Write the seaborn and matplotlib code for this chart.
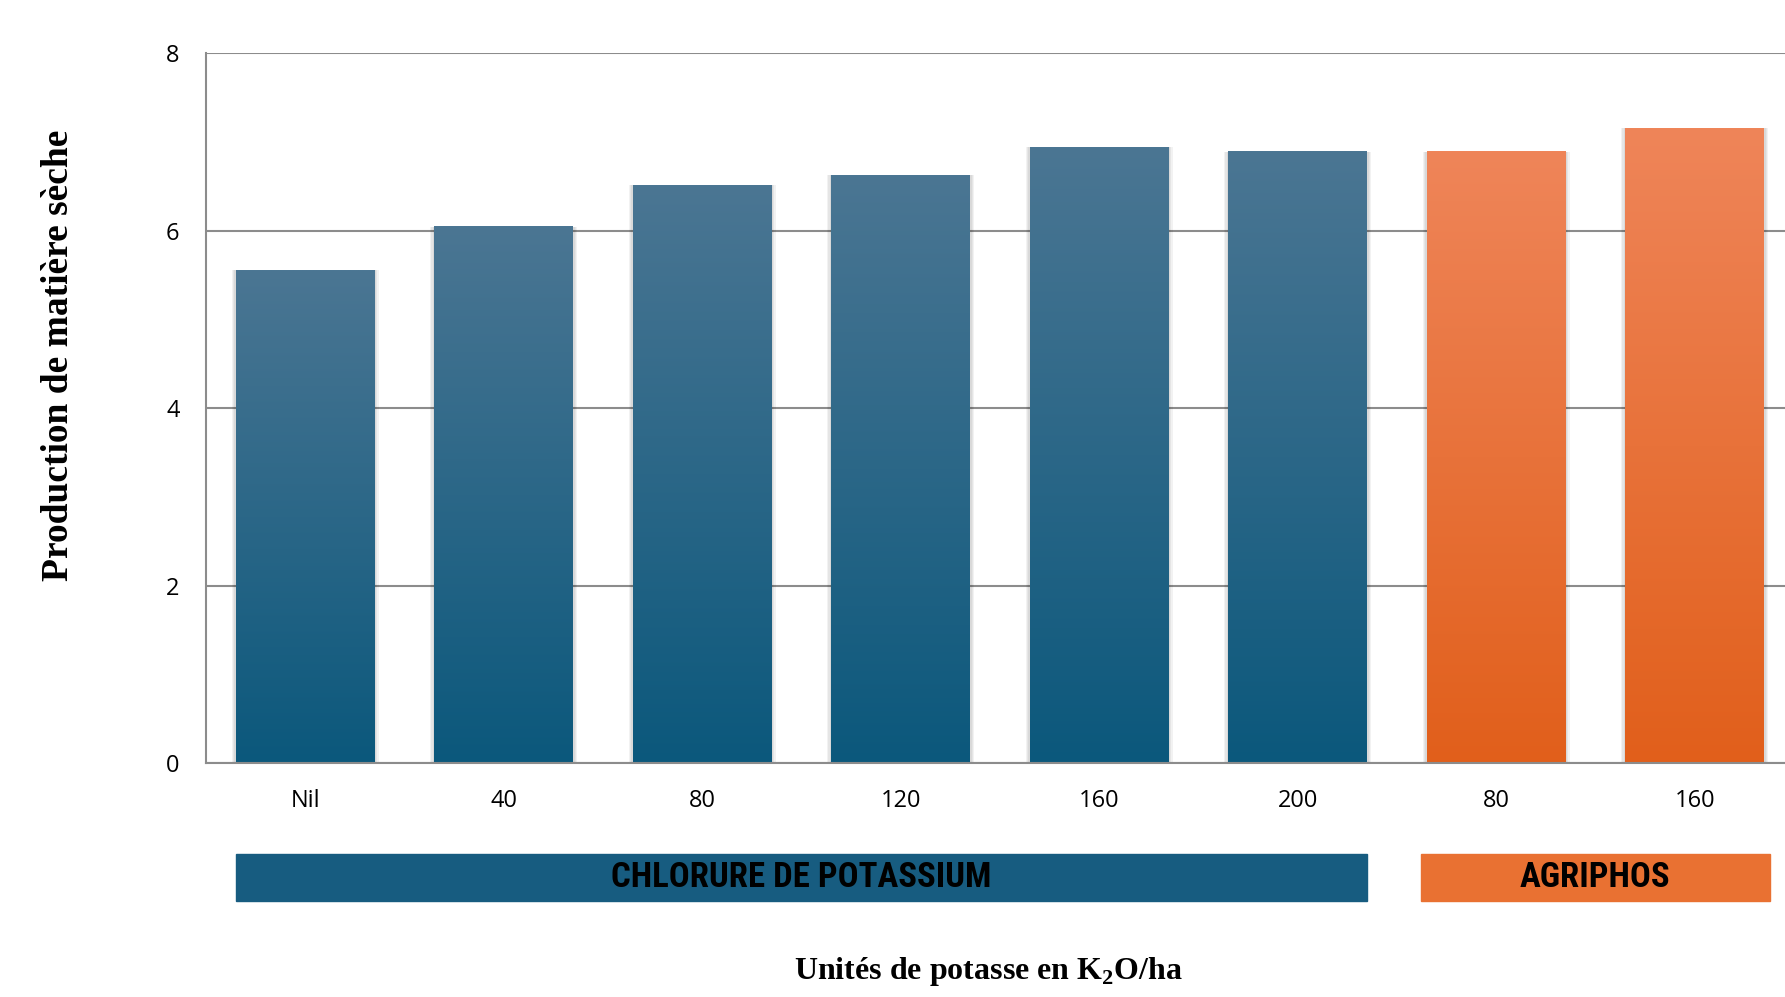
import numpy as np
import pandas as pd
import matplotlib.pyplot as plt
import matplotlib.colors as mcolors
import matplotlib.transforms as mtransforms
from matplotlib import font_manager
import seaborn as sns

# data
doses = ["Nil", "40", "80", "120", "160", "200", "80", "160"]
engrais = ["CHLORURE DE POTASSIUM"] * 6 + ["AGRIPHOS"] * 2
production = [5.55, 6.04, 6.51, 6.62, 6.94, 6.89, 6.89, 7.15]
groups = ["CHLORURE DE POTASSIUM", "AGRIPHOS"]

df = pd.DataFrame({"pos": range(len(doses)), "dose": doses,
                   "engrais": engrais, "prod": production})

band_colors = {"CHLORURE DE POTASSIUM": "#175c80", "AGRIPHOS": "#e97132"}
grad_colors = {"CHLORURE DE POTASSIUM": ("#4b7693", "#0b587c"),
               "AGRIPHOS": ("#ef8559", "#e15f1b")}

sns.set_style("white")
plt.rcParams["font.family"] = ["Open Sans", "DejaVu Sans"]
plt.rcParams["text.color"] = "black"
plt.rcParams["mathtext.fontset"] = "custom"
plt.rcParams["mathtext.rm"] = "Liberation Serif"
plt.rcParams["mathtext.bf"] = "Liberation Serif:bold"

# narrow bold font for the band labels, if one is around
names = {f.name for f in font_manager.fontManager.ttflist}
narrow = [n for n in ["Liberation Sans Narrow", "Roboto Condensed",
                      "DejaVu Sans Condensed"] if n in names]
band_fam = narrow[0] if narrow else "DejaVu Sans"
band_stretch = "normal" if narrow else "condensed"

fig = plt.figure(figsize=(17.85, 9.97), dpi=100)
ax = fig.add_axes([0.1154, 0.2347, 0.8896, 0.7121])

sns.barplot(data=df, x="pos", y="prod", hue="engrais", palette=band_colors,
            dodge=False, width=0.7, legend=False, ax=ax, zorder=2)

bars = sorted(ax.patches, key=lambda p: p.get_x())

# soft shadow + gradient fill over each bar
for patch, grp in zip(bars, engrais):
    x0, w, h = patch.get_x(), patch.get_width(), patch.get_height()
    for k in range(1, 4):
        d = 0.007 * k
        ax.add_patch(plt.Rectangle((x0 - d, 0), w + 2 * d, h + d * 0.02,
                                   color="black", alpha=0.05, lw=0,
                                   zorder=1.5))
    top, bot = grad_colors[grp]
    cmap = mcolors.LinearSegmentedColormap.from_list("g", [bot, top])
    grad = np.linspace(0, 1, 256).reshape(-1, 1)
    ax.imshow(grad, cmap=cmap, origin="lower", aspect="auto",
              extent=(x0, x0 + w, 0, h), zorder=3)
    patch.set_edgecolor("none")

ax.set_xlim(-0.5, len(doses) - 0.5)
ax.set_ylim(0, 8)
ax.set_yticks([0, 2, 4, 6, 8])
ax.yaxis.grid(True, color="#8c8c8c", linewidth=1.5, zorder=0)
ax.set_axisbelow(True)

ax.set_xticks(range(len(doses)))
ax.set_xticklabels(doses)
ax.set_xticks(np.arange(-0.5, len(doses)), minor=True)
ax.tick_params(axis="x", which="major", length=0, pad=19, labelsize=17,
               labelcolor="black")
ax.tick_params(axis="x", which="minor", length=7, width=1.5, color="#8c8c8c")
ax.tick_params(axis="y", length=7, width=1.5, color="#8c8c8c", pad=12,
               labelsize=17, labelcolor="black")

for s in ["top", "right"]:
    ax.spines[s].set_visible(False)
for s in ["left", "bottom"]:
    ax.spines[s].set_color("#8c8c8c")
    ax.spines[s].set_linewidth(1.5)
    ax.spines[s].set_zorder(4)

ax.set_xlabel("")
ax.set_ylabel("")

# group bands under the axis
trans = mtransforms.blended_transform_factory(ax.transData, fig.transFigure)
for grp in groups:
    sub = [p for p, g in zip(bars, engrais) if g == grp]
    xa = sub[0].get_x()
    xb = sub[-1].get_x() + sub[-1].get_width()
    if grp == "AGRIPHOS":
        xa -= 0.03
        xb += 0.03
    rect = plt.Rectangle((xa, 1 - 901 / 997), xb - xa, 47 / 997,
                         transform=trans, color=band_colors[grp],
                         clip_on=False, zorder=5)
    ax.add_patch(rect)
    ax.text((xa + xb) / 2, 1 - 877 / 997, grp, transform=trans,
            ha="center", va="center", fontsize=25, fontweight="bold",
            family=band_fam, fontstretch=band_stretch, color="black",
            zorder=6, clip_on=False)

serif = ["Liberation Serif", "DejaVu Serif"]
fig.text(0.033, 1 - 355 / 997, "Production de matière sèche", rotation=90,
         ha="center", va="center", fontsize=27, fontweight="bold",
         family=serif)
fig.text(0.554, 1 - 971 / 997, r"Unités de potasse en K$_\mathbf{2}$O/ha",
         ha="center", va="center", fontsize=23, fontweight="bold",
         family=serif)

fig.savefig("out.png", dpi=100)
